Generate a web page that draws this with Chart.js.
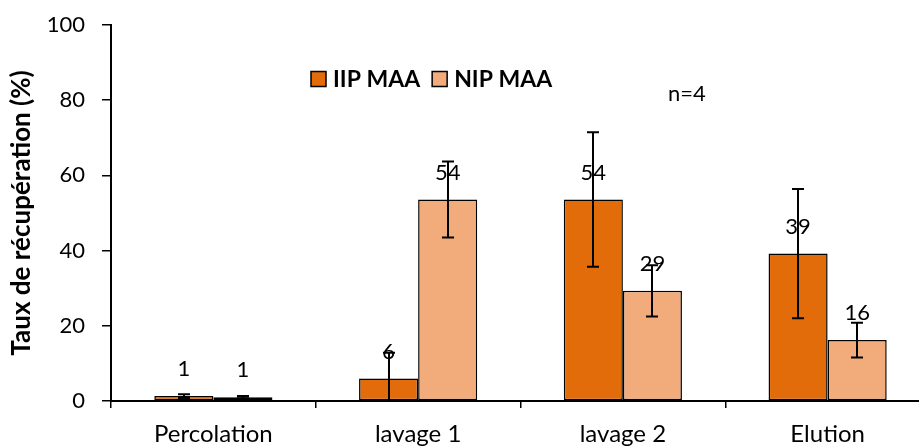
<!DOCTYPE html>
<html><head><meta charset="utf-8">
<script src="https://cdn.jsdelivr.net/npm/chart.js@4.4.1/dist/chart.umd.min.js"></script>
<style>html,body{margin:0;padding:0;background:#fff;overflow:hidden}#wrap{width:919px;height:446px;overflow:hidden;position:relative}</style>
</head><body><div id="wrap"><canvas id="c" width="935" height="446" style="width:935px;height:446px"></canvas></div>
<script>
const categories = ['Percolation', 'lavage 1', 'lavage 2', 'Elution'];
const seriesNames = ['IIP MAA', 'NIP MAA'];
const iipValues = [1.3, 6.0, 53.6, 39.2];
const nipValues = [1.0, 53.6, 29.3, 16.2];
const iipErrors = [0.5, 6.8, 17.9, 17.2];
const nipErrors = [0.3, 10.1, 6.8, 4.6];
const yTickValues = [0, 20, 40, 60, 80, 100];
const annotationText = 'n=4';
const errorsBySeries = [iipErrors, nipErrors];

const FONT = 'Lato';

const labelsAndErrors = {
  id: 'labelsAndErrors',
  afterDatasetsDraw(chart) {
    const ctx = chart.ctx;
    const ys = chart.scales.y;
    const area = chart.chartArea;
    ctx.save();
    ctx.font = '22px ' + FONT;
    ctx.fillStyle = '#000';
    ctx.textAlign = 'center';
    ctx.textBaseline = 'middle';
    chart.data.datasets.forEach((ds, di) => {
      chart.getDatasetMeta(di).data.forEach((bar, i) => {
        ctx.fillText(String(Math.round(ds.data[i])), bar.x, bar.y - 27);
      });
    });
    ctx.restore();
    ctx.save();
    ctx.beginPath();
    ctx.rect(area.left, 0, area.right - area.left, area.bottom);
    ctx.clip();
    ctx.strokeStyle = '#000';
    ctx.lineWidth = 2;
    chart.data.datasets.forEach((ds, di) => {
      const errs = errorsBySeries[di];
      chart.getDatasetMeta(di).data.forEach((bar, i) => {
        const v = ds.data[i], e = errs[i];
        const yTop = ys.getPixelForValue(v + e);
        const yBot = ys.getPixelForValue(v - e);
        const x = Math.round(bar.x);
        ctx.beginPath();
        ctx.moveTo(x, yTop); ctx.lineTo(x, yBot);
        ctx.moveTo(x - 6, yTop); ctx.lineTo(x + 6, yTop);
        ctx.moveTo(x - 6, yBot); ctx.lineTo(x + 6, yBot);
        ctx.stroke();
      });
    });
    ctx.restore();
  },
  afterDraw(chart) {
    const ctx = chart.ctx;
    ctx.save();
    ctx.font = 'bold 23px ' + FONT;
    ctx.textBaseline = 'middle';
    ctx.textAlign = 'left';
    let x = 311; const y = 79;
    chart.data.datasets.forEach(ds => {
      ctx.fillStyle = ds.backgroundColor;
      ctx.fillRect(x, y - 7.5, 15, 15);
      ctx.strokeStyle = '#000';
      ctx.lineWidth = 1.5;
      ctx.strokeRect(x, y - 7.5, 15, 15);
      ctx.fillStyle = '#000';
      ctx.fillText(ds.label, x + 22, y + 1);
      x += 22 + ctx.measureText(ds.label).width + 12;
    });
    ctx.font = '22px ' + FONT;
    ctx.fillText(annotationText, 668, 94);
    ctx.restore();
  }
};

new Chart(document.getElementById('c'), {
  type: 'bar',
  data: {
    labels: categories,
    datasets: [
      { label: seriesNames[0], data: iipValues, backgroundColor: '#E36C0A', borderColor: '#000', borderWidth: 1.5, borderSkipped: false },
      { label: seriesNames[1], data: nipValues, backgroundColor: '#F2AB7B', borderColor: '#000', borderWidth: 1.5, borderSkipped: false }
    ]
  },
  options: {
    responsive: false,
    animation: false,
    events: [],
    layout: { padding: { left: 0, top: 25, right: 5, bottom: 0 } },
    datasets: { bar: { barPercentage: 1, categoryPercentage: 0.577 } },
    plugins: { legend: { display: false }, tooltip: { enabled: false } },
    scales: {
      x: {
        afterFit(s) { s.height = 45; s.paddingLeft = 0; s.paddingRight = 0; },
        grid: { display: true, drawOnChartArea: false, drawTicks: true, tickLength: 7, color: '#000', lineWidth: 1.5, offset: true },
        border: { display: true, color: '#000', width: 2 },
        ticks: { font: { family: FONT, size: 24 }, color: '#000', padding: 12, maxRotation: 0 }
      },
      y: {
        min: 0, max: 100,
        afterFit(s) { s.width = 111; s.paddingTop = 0; s.paddingBottom = 0; },
        afterBuildTicks(s) { s.ticks = yTickValues.map(v => ({ value: v })); },
        grid: { display: true, drawOnChartArea: false, drawTicks: true, tickLength: 9, color: '#000', lineWidth: 1.5 },
        border: { display: true, color: '#000', width: 2 },
        ticks: { font: { family: FONT, size: 22 }, color: '#000', padding: 17 },
        title: { display: true, text: 'Taux de récupération (%)', font: { family: FONT, size: 26, weight: 'bold' }, color: '#000', padding: { top: 6, bottom: 0 } }
      }
    }
  },
  plugins: [labelsAndErrors]
});
</script></body></html>
